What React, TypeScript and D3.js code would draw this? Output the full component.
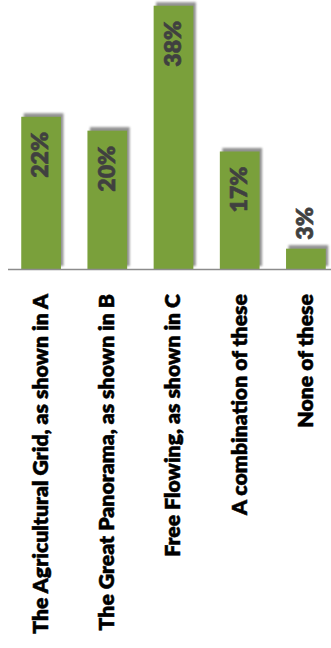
import React, { useEffect, useRef, useState } from "react";
import * as d3 from "d3";

const categories = [
  "The Agricultural Grid, as shown in A",
  "The Great Panorama, as shown in B",
  "Free Flowing, as shown in C",
  "A combination of these",
  "None of these",
];
const values = [22, 20, 38, 17, 3];
const valueLabels = ["22%", "20%", "38%", "17%", "3%"];

const W = 331;
const H = 648;

export default function App() {
  const baseline = 269.5;
  const x = d3.scaleBand<string>().domain(categories).range([8, 339]).paddingInner(0.4).paddingOuter(0.2);
  const y = d3.scaleLinear().domain([0, 38]).range([baseline, 5.7]);
  const font = "Lato, 'Open Sans', sans-serif";
  const labelRef = useRef<SVGTextElement>(null);
  const valRef = useRef<SVGTextElement>(null);
  const [labelSize, setLabelSize] = useState(19.5);
  const [valSize, setValSize] = useState(22);
  useEffect(() => {
    if (labelRef.current) {
      const len = labelRef.current.getComputedTextLength();
      if (len > 0) setLabelSize((s) => (Math.abs(len - 340) > 1 ? (s * 340) / len : s));
    }
    if (valRef.current) {
      const len = valRef.current.getComputedTextLength();
      if (len > 0) setValSize((s) => (Math.abs(len - 46) > 0.5 ? (s * 46) / len : s));
    }
  }, [labelSize, valSize]);
  return (
    <svg width={W} height={H} style={{ position: "absolute", left: 0, top: 0, background: "#fff" }}>
      <defs>
        <filter id="sh" x="-30%" y="-30%" width="160%" height="160%">
          <feGaussianBlur stdDeviation="1.2" />
        </filter>
      </defs>
      {categories.map((c, i) => {
        const bx = x(c)!;
        const bw = x.bandwidth();
        const top = y(values[i]);
        return (
          <g key={c}>
            <rect x={bx + 2.5} y={top - 3.5} width={bw} height={baseline - top} fill="#7f7f7f" opacity={0.85} filter="url(#sh)" />
            <rect x={bx} y={top} width={bw} height={baseline - top} fill="#7aa03b" />
          </g>
        );
      })}
      <line x1={8} x2={331} y1={baseline} y2={baseline} stroke="#8c8c8c" strokeWidth={1.5} />
      {categories.map((c, i) => {
        const cx = x(c)! + x.bandwidth() / 2;
        const top = y(values[i]);
        const inside = values[i] > 8;
        const ty = inside ? top + 15 : top - 9;
        return (
          <text
            key={"v" + c}
            ref={i === 0 ? valRef : undefined}
            transform={`translate(${cx + 7.3},${ty}) rotate(-90)`}
            textAnchor={inside ? "end" : "start"}
            fontFamily={font}
            fontWeight={800}
            fontSize={valSize}
            fill="#404040"
            stroke="#404040"
            strokeWidth={0.6}
          >
            {valueLabels[i]}
          </text>
        );
      })}
      {categories.map((c, i) => {
        const cx = x(c)! + x.bandwidth() / 2;
        return (
          <text
            key={"l" + c}
            ref={i === 0 ? labelRef : undefined}
            transform={`translate(${cx + 6.9},294) rotate(-90)`}
            textAnchor="end"
            fontFamily={font}
            fontWeight={800}
            fontSize={labelSize}
            fill="#000"
            stroke="#000"
            strokeWidth={0.5}
          >
            {c}
          </text>
        );
      })}
    </svg>
  );
}
